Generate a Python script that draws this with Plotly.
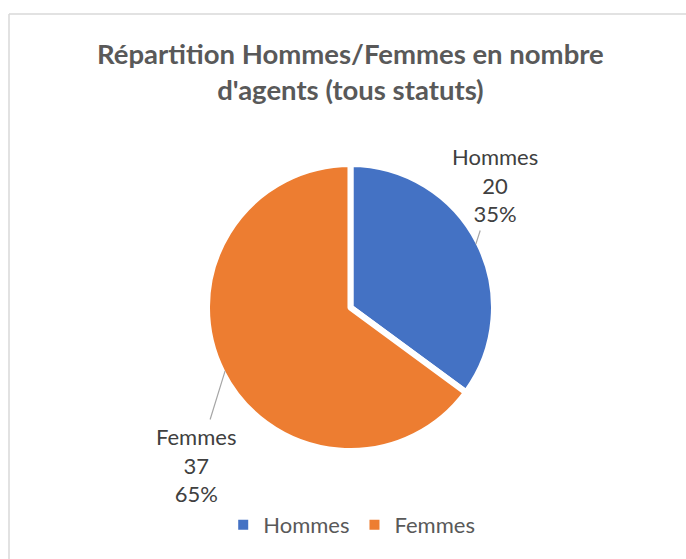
import math
import plotly.graph_objects as go

labels = ["Hommes", "Femmes"]
values = [20, 37]
colors = ["#4472C4", "#ED7D31"]
title_text = "Répartition Hommes/Femmes en nombre<br>d'agents (tous statuts)"

W, H = 686, 559
FONT = "Lato"
SLICE_GAP = 6  # white slice border width (px)

dom_x = [0.0911, 0.9307]
dom_y = [0.1932, 0.7066]

fig = go.Figure()
fig.add_trace(go.Pie(
    labels=labels,
    values=values,
    marker=dict(colors=colors, line=dict(color="white", width=SLICE_GAP)),
    sort=False,
    direction="clockwise",
    rotation=0,
    textposition="none",
    domain=dict(x=dom_x, y=dom_y),
    hoverinfo="label+value+percent",
    showlegend=False,
))

# legend entries (plain square swatches, unaffected by the slice border)
for lab, col in zip(labels, colors):
    fig.add_trace(go.Scatter(
        x=[None], y=[None], mode="markers", name=lab,
        marker=dict(symbol="square", size=10, color=col),
        showlegend=True, hoverinfo="skip",
    ))

# data labels with leader lines, anchored at each slice's mid-arc point
cx = (dom_x[0] + dom_x[1]) / 2
cy = (dom_y[0] + dom_y[1]) / 2
r = min((dom_x[1] - dom_x[0]) * W, (dom_y[1] - dom_y[0]) * H) / 2 - SLICE_GAP / 2
total = sum(values)
label_offsets = [(19, -59), (-29, 94)]  # text offset from anchor, in px
cum = 0
for lab, v, (ox, oy) in zip(labels, values, label_offsets):
    theta = 2 * math.pi * (cum + v / 2) / total
    cum += v
    x = cx + r * math.sin(theta) / W
    y = cy + r * math.cos(theta) / H
    pct = round(100 * v / total)
    fig.add_annotation(
        x=x, y=y, xref="paper", yref="paper",
        text=f"{lab}<br>{v}<br>{pct}%",
        showarrow=True, arrowhead=0, arrowwidth=1.2, arrowcolor="#A6A6A6",
        ax=ox, ay=oy, standoff=0, startstandoff=2,
        font=dict(family=FONT, size=22, color="#404040"),
        align="center",
    )

fig.update_layout(
    width=W, height=H,
    autosize=False,
    margin=dict(l=0, r=0, t=0, b=0, pad=0, autoexpand=False),
    paper_bgcolor="white",
    plot_bgcolor="white",
    font=dict(family=FONT),
    xaxis=dict(visible=False),
    yaxis=dict(visible=False),
    title=dict(
        text="<b>" + title_text + "</b>",
        x=0.5108, xanchor="center",
        y=1 - 64 / H, yanchor="top",
        font=dict(family=FONT, size=27.5, color="#595959"),
    ),
    legend=dict(
        orientation="h",
        x=0.5127, xanchor="center",
        y=1 - 504 / H, yanchor="top",
        font=dict(family=FONT, size=22, color="#595959"),
        itemwidth=30,
    ),
    shapes=[
        dict(type="line", xref="paper", yref="paper",
             x0=9 / W, x1=1.2, y0=1 - 14 / H, y1=1 - 14 / H,
             line=dict(color="#D9D9D9", width=1.5), layer="below"),
        dict(type="line", xref="paper", yref="paper",
             x0=9 / W, x1=9 / W, y0=-0.2, y1=1 - 14 / H,
             line=dict(color="#D9D9D9", width=1.5), layer="below"),
    ],
)

fig.write_html(
    "out.html",
    config={"displayModeBar": False},
    post_script="document.body.style.margin='0';document.body.style.overflow='hidden';",
)
